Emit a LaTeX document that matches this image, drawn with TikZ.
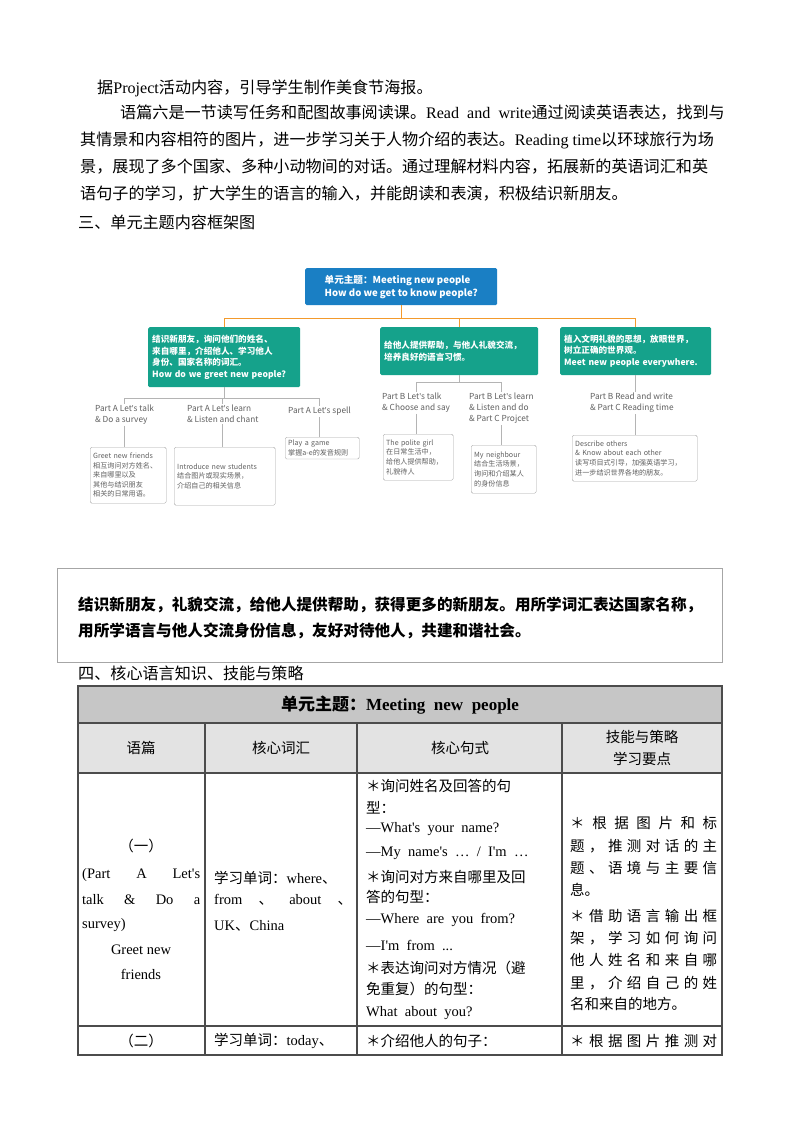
\documentclass[tikz,border=0pt]{standalone}
\usepackage{fontspec}
\setmainfont{Noto Sans CJK SC}
\newfontfamily\lat{Liberation Serif}
\newfontfamily\cjkf{Noto Sans CJK SC}
\newfontfamily\nsans{Noto Sans}
\newcommand\ap{{\nsans'}}
\makeatletter
\def\spA#1#2{#1\ifx\relax#2\expandafter\@gobble\else\hfil\expandafter\@firstofone\fi{\spA#2}}
\makeatother
\newcommand\sprd[2]{\hbox to #1{\spA#2\relax}}
\definecolor{topblue}{HTML}{1A7FC4}
\definecolor{tgreen}{HTML}{15A28B}
\definecolor{oline}{HTML}{F39A2C}
\definecolor{gline}{HTML}{B4B4B4}
\definecolor{gtext}{HTML}{606060}
\tikzset{
 para/.style={anchor=west,inner sep=0,font=\fontsize{16.1}{16}\selectfont},
 gbox/.style={anchor=north west,fill=tgreen,text=white,rounded corners=1.5,align=left,font=\fontsize{8.6}{11.5}\selectfont\bfseries,inner sep=4},
 lbl/.style={anchor=north west,text=gtext,align=left,font=\fontsize{8.3}{11}\selectfont,inner sep=1},
 sbox/.style={anchor=north west,draw=gray!70,rounded corners=1.5,align=left,font=\fontsize{7.1}{9.6}\selectfont,text=gtext,inner sep=3},
 ol/.style={draw=oline,line width=1.2},
 gl/.style={draw=gline,line width=0.9},
 tl/.style={anchor=west,inner sep=0,font=\fontsize{14.5}{15}\selectfont},
 tc/.style={inner sep=0,font=\fontsize{14.5}{15}\selectfont},
 tab/.style={draw=black!70,line width=1.1}
}
\begin{document}
\begin{tikzpicture}[x=1pt,y=-1pt]
\useasboundingbox[fill=white] (0,0) rectangle (800,1132);
% paragraphs
\node[para] (p1) at (97,88) {据{\lat Project}活动内容，引导学生制作美食节海报。};
\node[para] (p2) at (120,113) {语篇六是一节读写任务和配图故事阅读课。{\lat Read\ \ and\ \ write}通过阅读英语表达，找到与};
\node[para] (p3) at (80,140) {其情景和内容相符的图片，进一步学习关于人物介绍的表达。{\lat Reading time}以环球旅行为场};
\node[para] (p4) at (80,167) {景，展现了多个国家、多种小动物间的对话。通过理解材料内容，拓展新的英语词汇和英};
\node[para] (p5) at (80,194) {语句子的学习，扩大学生的语言的输入，并能朗读和表演，积极结识新朋友。};
\node[para] (h3) at (78,222) {三、单元主题内容框架图};
% diagram
\node[anchor=north west,fill=topblue,text=white,rounded corners=1.5,align=left,font=\fontsize{9.6}{13}\selectfont\bfseries,minimum width=192,minimum height=37,inner sep=4] (top) at (305,268) {单元主题：Meeting new people\\How do we get to know people?};
\node[gbox,text width=144,minimum height=60] (gA) at (148,327) {结识新朋友，询问他们的姓名、\\来自哪里，介绍他人、学习他人\\身份、国家名称的词汇。\\How do we greet new people?};
\node[gbox,text width=150,minimum height=48] (gB) at (380,327) {给他人提供帮助，与他人礼貌交流，\\培养良好的语言习惯。};
\node[gbox,text width=143,minimum height=48] (gC) at (560,327) {植入文明礼貌的思想，放眼世界，\\树立正确的世界观。\\Meet new people everywhere.};
\draw[ol] (top.south) -- ++(0,13) coordinate (j);
\draw[ol] (j) -| (gA.north);
\draw[ol] (j) -| (gB.north);
\draw[ol] (j) -| (gC.north);
% labels A
\node[lbl] (lA1) at (94,404) {Part A Let\ap s talk\\\& Do a survey};
\node[lbl] (lA2) at (186,404) {Part A Let\ap s learn\\\& Listen and chant};
\node[lbl] (lA3) at (287,406) {Part A Let\ap s spell};
\draw[gl] (gA.south) -- ++(0,11) coordinate (ja);
\draw[gl] (ja) -| (lA1.north);
\draw[gl] (ja) -| (lA2.north);
\draw[gl] (ja) -| (lA3.north);
\node[sbox,text width=70,minimum height=56] (bA1) at (90,447) {Greet new friends\\相互询问对方姓名、\\来自哪里以及\\其他与结识朋友\\相关的日常用语。};
\node[sbox,text width=95,minimum height=58] (bA2) at (174,447) {Introduce new students\\结合图片或现实场景，\\介绍自己的相关信息};
\node[sbox,text width=68] (bA3) at (285,437) {Play a game\\掌握a-e的发音规则};
\draw[gl] (lA1.south) -- (lA1.south |- bA1.north);
\draw[gl] (lA2.south) -- (lA2.south |- bA2.north);
\draw[gl] (lA3.south) -- (lA3.south |- bA3.north);
% labels B
\node[lbl] (lB1) at (381,392) {Part B Let\ap s talk\\\& Choose and say};
\node[lbl] (lB2) at (468,392) {Part B Let\ap s learn\\\& Listen and do\\\& Part C Projcet};
\draw[gl] (gB.south) -- ++(0,7) coordinate (jb);
\draw[gl] (jb) -| (lB1.north);
\draw[gl] (jb) -| (lB2.north);
\node[sbox,text width=64,minimum height=46] (bB1) at (383,434) {The polite girl\\在日常生活中，\\给他人提供帮助，\\礼貌待人};
\node[sbox,text width=59,minimum height=48] (bB2) at (471,445) {My neighbour\\结合生活场景，\\询问和介绍某人\\的身份信息};
\draw[gl] (lB1.south) -- (lB1.south |- bB1.north);
\draw[gl] (lB2.south) -- (lB2.south |- bB2.north);
% labels C
\node[lbl] (lC) at (589,392) {Part B Read and write\\\& Part C Reading time};
\draw[gl] (gC.south) -- (gC.south |- lC.north);
\node[sbox,text width=119,minimum height=46] (bC) at (572,435) {Describe others\\\& Know about each other\\读写项目式引导，加强英语学习，\\进一步结识世界各地的朋友。};
\draw[gl] (gC.south |- lC.south) -- (gC.south |- bC.north);
% summary box
\draw[draw=gray!70,line width=0.9] (57,568) rectangle (722,662);
\node[para,font=\fontsize{15.6}{16}\selectfont\bfseries] (s1) at (78,605) {结识新朋友，礼貌交流，给他人提供帮助，获得更多的新朋友。用所学词汇表达国家名称，};
\node[para,font=\fontsize{15.6}{16}\selectfont\bfseries] (s2) at (78,631) {用所学语言与他人交流身份信息，友好对待他人，共建和谐社会。};
\node[para] (h4) at (78,673) {四、核心语言知识、技能与策略};
% table
\fill[gray!45] (78,686) rectangle (722,723);
\fill[gray!22] (78,723) rectangle (722,773);
\draw[tab] (78,686) rectangle (722,1055);
\draw[tab] (78,723) -- (722,723);
\draw[tab] (78,773) -- (722,773);
\draw[tab] (78,1026) -- (722,1026);
\foreach \cx in {205,357,562} \draw[tab] (\cx,723) -- (\cx,1055);
\node[tc,font=\fontsize{17}{18}\selectfont\bfseries] (tt) at (400,705) {单元主题：{\lat\bfseries Meeting\ \ new\ \ people}};
\node[tc] (c1) at (141,748) {语篇};
\node[tc] (c2) at (281,748) {核心词汇};
\node[tc] (c3) at (460,748) {核心句式};
\node[tc,align=center,font=\fontsize{14.5}{22}\selectfont] (c4) at (642,748) {技能与策略\\学习要点};
% row 1 col 1
\node[tc] (r1) at (141,846) {（一）};
\node[tl] (r1a) at (82,875) {\lat\hbox to 118pt{(Part\hfil A\hfil Let's}};
\node[tl] (r1b) at (82,900) {\lat\hbox to 118pt{talk\hfil \&\hfil Do\hfil a}};
\node[tl] (r1c) at (82,925) {\lat survey)};
\node[tc] (r1d) at (141,950) {\lat Greet new};
\node[tc] (r1e) at (141,974) {\lat friends};
% col 2
\node[tl] (v1) at (214,878) {学习单词：{\lat where}、};
\node[tl] (v2) at (214,900) {\hbox to 138pt{{\lat from}\hfil 、\hfil {\lat about}\hfil 、}};
\node[tl] (v3) at (214,926) {{\lat UK}、{\lat China}};
% col 3
\node[tl] (s01) at (366,786) {＊询问姓名及回答的句};
\node[tl] (s02) at (366,808) {型：};
\node[tl] (s03) at (366,829) {\lat —What's\ \ your\ \ name?};
\node[tl] (s04) at (366,853) {\lat —My\ \ name's\ \ …\ \ /\ \ I'm\ \ …};
\node[tl] (s05) at (366,877) {＊询问对方来自哪里及回};
\node[tl] (s06) at (366,897) {答的句型：};
\node[tl] (s07) at (366,920) {\lat —Where\ \ are\ \ you\ \ from?};
\node[tl] (s08) at (366,945) {\lat —I'm\ \ from\ \ ...};
\node[tl] (s09) at (366,968) {＊表达询问对方情况（避};
\node[tl] (s10) at (366,989) {免重复）的句型：};
\node[tl] (s11) at (366,1013) {\lat What\ \ about\ \ you?};
% col 4
\node[tl] (k1) at (570,823) {\sprd{147pt}{＊根据图片和标}};
\node[tl] (k2) at (570,846) {\sprd{147pt}{题，推测对话的主}};
\node[tl] (k3) at (570,868) {\sprd{147pt}{题、语境与主要信}};
\node[tl] (k4) at (570,890) {息。};
\node[tl] (k5) at (570,916) {\sprd{147pt}{＊借助语言输出框}};
\node[tl] (k6) at (570,938) {\sprd{147pt}{架，学习如何询问}};
\node[tl] (k7) at (570,960) {\sprd{147pt}{他人姓名和来自哪}};
\node[tl] (k8) at (570,983) {\sprd{147pt}{里，介绍自己的姓}};
\node[tl] (k9) at (570,1004) {名和来自的地方。};
% row 2
\node[tc] (r2) at (141,1041) {（二）};
\node[tl] (r2b) at (214,1041) {学习单词：{\lat today}、};
\node[tl] (r2c) at (366,1041) {＊介绍他人的句子：};
\node[tl] (r2d) at (570,1041) {\sprd{147pt}{＊根据图片推测对}};
\end{tikzpicture}
\end{document}
